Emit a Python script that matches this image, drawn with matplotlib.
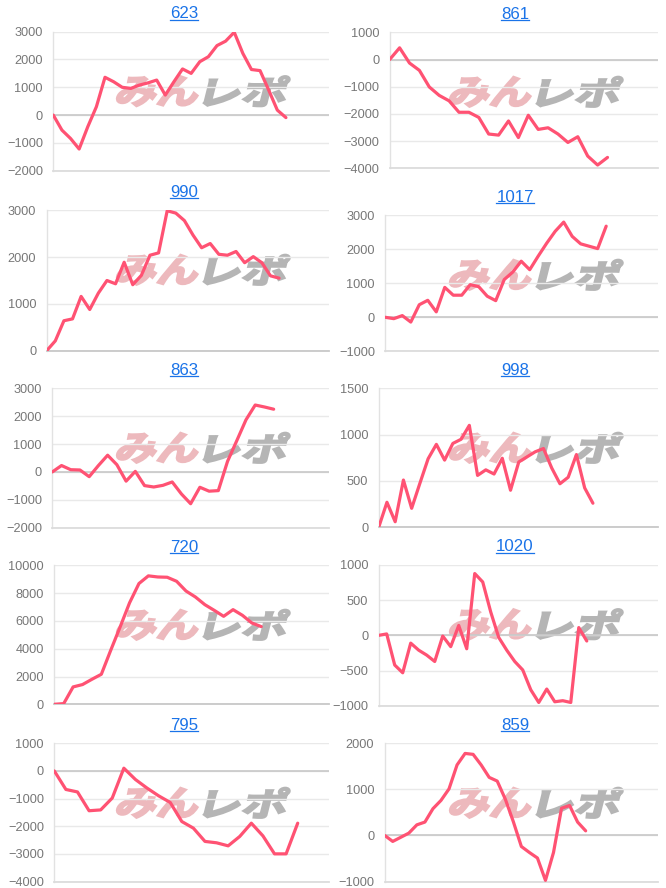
import matplotlib
matplotlib.use('Agg')
import numpy as np
import matplotlib.pyplot as plt
from matplotlib.textpath import TextPath
from matplotlib.font_manager import FontProperties
from matplotlib.patches import PathPatch
from matplotlib.transforms import Affine2D
from matplotlib.lines import Line2D

plt.rcParams['font.family'] = ['Liberation Sans', 'DejaVu Sans']

# ---------------- data ----------------
titles = ["623", "861", "990", "1017", "863", "998", "720", "1020", "795", "859"]

v623 = [0, -540, -840, -1220, -420, 300, 1360, 1200, 1000, 960, 1080, 1160, 1260, 720,
        1200, 1660, 1500, 1920, 2100, 2500, 2660, 2980, 2220, 1640, 1600, 900, 180, -90]
v861 = [0, 430, -130, -400, -1010, -1320, -1520, -1940, -1940, -2130, -2740, -2780, -2260,
        -2870, -2050, -2570, -2510, -2740, -3050, -2840, -3550, -3880, -3600]
v990 = [0, 210, 640, 680, 1160, 880, 1230, 1500, 1430, 1890, 1410, 1610, 2040, 2090, 2990,
        2940, 2780, 2470, 2200, 2290, 2060, 2040, 2120, 1880, 2010, 1880, 1600, 1550]
v1017 = [0, -40, 50, -140, 370, 500, 160, 880, 650, 650, 960, 900, 620, 490, 1110, 1330,
         1650, 1400, 1800, 2180, 2530, 2800, 2380, 2160, 2090, 2020, 2680]
v863 = [0, 230, 80, 70, -170, 230, 600, 260, -330, 20, -490, -540, -480, -360, -790, -1140,
        -550, -690, -670, 380, 1120, 1870, 2400, 2330, 2250]
v998 = [0, 270, 60, 510, 205, 475, 740, 895, 725, 905, 950, 1100, 560, 620, 575, 745, 400,
        705, 760, 815, 850, 640, 470, 540, 785, 425, 260]
v720 = [0, 50, 1250, 1420, 1800, 2160, 3890, 5570, 7300, 8690, 9240, 9160, 9140, 8850, 8150,
        7720, 7170, 6760, 6330, 6810, 6400, 5850, 5590]
v1020 = [0, 20, -420, -530, -110, -210, -280, -370, -10, -160, 140, -190, 875, 755, 330, -30,
         -210, -370, -490, -770, -950, -760, -940, -925, -950, 110, -80]
v795 = [0, -670, -760, -1440, -1410, -980, 100, -310, -620, -900, -1140, -1830, -2070, -2550,
        -2600, -2710, -2370, -1890, -2350, -3000, -3000, -1890]
v859 = [0, -130, -40, 50, 230, 290, 580, 760, 1010, 1530, 1780, 1760, 1530, 1260, 1180, 790,
        300, -240, -370, -490, -975, -370, 590, 650, 290, 100]

series = [v623, v861, v990, v1017, v863, v998, v720, v1020, v795, v859]

y_min = [-2000, -4000, 0, -1000, -2000, 0, 0, -1000, -4000, -1000]
y_max = [3000, 1000, 3000, 3000, 3000, 1500, 10000, 1000, 1000, 2000]
y_step = [1000, 1000, 1000, 1000, 1000, 500, 2000, 500, 1000, 1000]

# ---------------- layout (pixels, top-origin) ----------------
W, H = 666, 888
# left, right, top, bottom of plot area
boxes = [
    (53.3, 329, 31.7, 170.7),
    (389.7, 658, 32.3, 168.3),
    (46.7, 329, 210.3, 350.7),
    (385.3, 658, 215.3, 351.3),
    (52.3, 329, 388.3, 527.7),
    (378.7, 658, 388.3, 527.3),
    (54.3, 329, 565.3, 704.3),
    (378.7, 658, 564.7, 706.0),
    (54.3, 329, 743.3, 881.5),
    (384.7, 658, 743.3, 881.5),
]
x_max = [32.0, 27.1, 32.8, 32.1, 30.0, 33.9, 29.2, 34.9, 23.7, 34.0]

LINE = '#ff5273'
GRID = '#e9e9e9'
ZERO = '#c8c8c8'
TICK = '#777777'
TITLE = '#1a73e8'

fig = plt.figure(figsize=(W / 100, H / 100), dpi=100)
fig.patch.set_facecolor('white')

fp_wm = FontProperties(family='Noto Sans CJK JP', weight='bold')


def add_wm_text(s, x0, x1, ytop, ybot, color):
    tp = TextPath((0, 0), s, size=50, prop=fp_wm)
    ext = tp.get_extents()
    sx = (x1 - x0) / ext.width
    sy = (ybot - ytop) / ext.height
    tr = (Affine2D().translate(-ext.x0, -ext.y0).scale(sx, sy)
          .skew_deg(14, 0).translate(x0 - 4, H - ybot))
    p = PathPatch(tp, transform=tr, facecolor=color, edgecolor=color, lw=1.6,
                  joinstyle='miter', zorder=-1)
    fig.add_artist(p)


axes = []
for i in range(10):
    l, r, t, b = boxes[i]
    ax = fig.add_axes([l / W, 1 - b / H, (r - l) / W, (b - t) / H])
    ax.set_facecolor('none')
    v = series[i]
    ax.plot(np.arange(len(v)), v, color=LINE, lw=2.3, solid_joinstyle='round',
            solid_capstyle='round', zorder=3)
    ax.set_xlim(0, x_max[i])
    ax.set_ylim(y_min[i], y_max[i])
    ax.set_yticks(np.arange(y_min[i], y_max[i] + 1, y_step[i]))
    ax.set_xticks([])
    ax.yaxis.grid(True, color=GRID, lw=1.0, zorder=0)
    ax.set_axisbelow(True)
    for s in ['top', 'right']:
        ax.spines[s].set_visible(False)
    ax.spines['left'].set_color('#e2e2e2')
    ax.spines['left'].set_linewidth(1.0)
    ax.spines['bottom'].set_color(ZERO if y_min[i] == 0 else '#dcdcdc')
    ax.spines['bottom'].set_linewidth(1.3)
    if y_min[i] < 0:
        ax.axhline(0, color=ZERO, lw=1.2, zorder=1)
    ax.tick_params(axis='y', length=0, pad=7.5, labelsize=9.2, labelcolor=TICK)
    axes.append(ax)

    # title
    col_off = 0 if i % 2 == 0 else 333
    tx = col_off + (184 if i % 2 == 0 else 182)
    base = t - 13.7
    txt = fig.text(tx / W, 1 - base / H, titles[i], ha='center', va='baseline',
                   fontsize=12.2, color=TITLE)
    axes[-1]._title_txt = txt
    axes[-1]._title_base = base

    # watermark
    cx = col_off + 203
    cy = t + 59.5
    add_wm_text('みん', cx - 84, cx - 4, cy - 15, cy + 15, '#edb9bd')
    add_wm_text('レポ', cx + 4, cx + 84, cy - 15, cy + 15, '#b5b5b5')

# underline titles
fig.canvas.draw()
rend = fig.canvas.get_renderer()
for ax in axes:
    bb = ax._title_txt.get_window_extent(rend)
    yline = ax._title_base + 1.6
    fig.add_artist(Line2D([bb.x0 / W, bb.x1 / W], [1 - yline / H, 1 - yline / H],
                          transform=fig.transFigure, color=TITLE, lw=0.9))

fig.savefig('out.png', dpi=100, facecolor='white')
